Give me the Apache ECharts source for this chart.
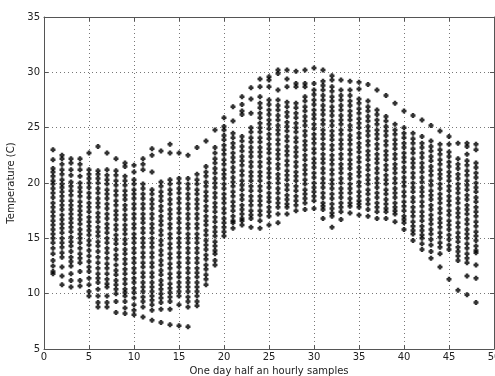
<!DOCTYPE html>
<html>
<head>
<meta charset="utf-8">
<script src="https://cdn.jsdelivr.net/npm/echarts@6/dist/echarts.min.js"></script>
<style>html,body{margin:0;padding:0;background:#fff}#c{width:495px;height:376px}</style>
</head>
<body>
<div id="c"></div>
<script>
// Half-hourly sample index (x) and the temperatures recorded at that slot (one per day)
const xTicks = [0, 5, 10, 15, 20, 25, 30, 35, 40, 45, 50];
const yTicks = [5, 10, 15, 20, 25, 30, 35];

const s01 = [23.0, 22.1, 21.3, 21.0, 20.6, 20.2, 19.9, 19.5, 19.1, 18.7, 18.2, 17.8, 17.4, 17.0, 16.6, 16.2, 15.8, 15.4, 15.0, 14.6, 14.1, 13.6, 13.0, 12.5, 12.0, 11.8];
const s02 = [22.5, 22.2, 21.7, 21.2, 20.8, 20.3, 19.9, 19.6, 19.2, 18.8, 18.4, 18.0, 17.6, 17.1, 16.7, 16.3, 15.9, 15.5, 15.0, 14.6, 14.2, 13.7, 13.3, 12.4, 11.6, 10.8];
const s03 = [22.2, 21.8, 21.2, 20.7, 20.1, 19.7, 19.3, 18.9, 18.4, 18.0, 17.6, 17.2, 16.8, 16.4, 16.0, 15.6, 15.1, 14.7, 14.3, 13.8, 13.3, 12.9, 12.5, 11.8, 11.2, 10.6];
const s04 = [22.2, 21.7, 21.2, 20.6, 20.0, 19.6, 19.2, 18.8, 18.3, 17.9, 17.5, 17.1, 16.7, 16.3, 15.8, 15.4, 15.0, 14.6, 14.1, 13.6, 13.2, 12.8, 12.0, 11.2, 10.7];
const s05 = [22.7, 21.2, 20.8, 20.4, 20.0, 19.6, 19.1, 18.7, 18.2, 17.8, 17.4, 16.9, 16.5, 16.1, 15.7, 15.3, 14.8, 14.4, 13.9, 13.4, 12.9, 12.4, 12.0, 11.4, 10.8, 10.2, 9.8];
const s06 = [23.3, 21.1, 20.8, 20.4, 20.0, 19.5, 19.1, 18.6, 18.2, 17.8, 17.3, 16.9, 16.5, 16.0, 15.6, 15.2, 14.7, 14.3, 13.8, 13.3, 12.8, 12.3, 11.8, 11.4, 11.0, 10.4, 9.8, 9.2, 8.8];
const s07 = [22.7, 21.2, 20.7, 20.3, 19.9, 19.4, 19.0, 18.6, 18.1, 17.7, 17.2, 16.8, 16.3, 15.9, 15.5, 15.0, 14.6, 14.1, 13.7, 13.2, 12.7, 12.3, 11.8, 11.3, 10.9, 10.6, 9.8, 9.2, 8.8];
const s08 = [22.2, 21.1, 20.7, 20.2, 19.8, 19.3, 18.9, 18.4, 18.0, 17.5, 17.1, 16.7, 16.2, 15.8, 15.3, 14.9, 14.5, 14.0, 13.5, 13.1, 12.6, 12.1, 11.7, 11.2, 10.8, 10.4, 10.0, 9.3, 8.3];
const s09 = [21.8, 21.5, 20.6, 20.2, 19.8, 19.3, 18.9, 18.5, 18.0, 17.6, 17.1, 16.7, 16.2, 15.8, 15.4, 14.9, 14.5, 14.0, 13.6, 13.1, 12.7, 12.2, 11.8, 11.3, 10.9, 10.4, 10.1, 9.8, 9.3, 8.7, 8.2];
const s10 = [21.6, 21.0, 20.3, 19.9, 19.4, 19.0, 18.6, 18.1, 17.7, 17.2, 16.8, 16.3, 15.9, 15.4, 15.0, 14.6, 14.1, 13.7, 13.2, 12.8, 12.3, 11.9, 11.4, 11.0, 10.5, 10.1, 9.6, 9.0, 8.5, 8.1];
const s11 = [22.2, 21.7, 21.2, 19.9, 19.5, 19.0, 18.6, 18.1, 17.7, 17.2, 16.8, 16.4, 15.9, 15.5, 15.0, 14.6, 14.2, 13.7, 13.3, 12.8, 12.4, 11.9, 11.5, 11.0, 10.6, 10.2, 9.7, 9.3, 8.8, 7.9];
const s12 = [23.1, 22.5, 21.0, 19.4, 19.0, 18.5, 18.1, 17.7, 17.2, 16.8, 16.3, 15.9, 15.5, 15.0, 14.6, 14.2, 13.7, 13.3, 12.8, 12.4, 11.9, 11.5, 11.0, 10.6, 10.2, 9.8, 9.4, 9.0, 8.5, 7.6];
const s13 = [22.9, 20.1, 19.7, 19.2, 18.8, 18.4, 17.9, 17.5, 17.0, 16.6, 16.2, 15.7, 15.3, 14.8, 14.4, 13.9, 13.5, 13.0, 12.6, 12.1, 11.7, 11.2, 10.8, 10.4, 10.0, 9.6, 9.2, 8.6, 7.4];
const s14 = [23.5, 22.7, 20.3, 19.9, 19.4, 19.0, 18.5, 18.1, 17.6, 17.2, 16.8, 16.3, 15.9, 15.4, 15.0, 14.5, 14.1, 13.6, 13.2, 12.7, 12.3, 11.8, 11.4, 10.9, 10.5, 10.1, 9.7, 9.3, 8.6, 7.2];
const s15 = [22.7, 20.4, 20.0, 19.5, 19.1, 18.6, 18.2, 17.7, 17.3, 16.8, 16.4, 15.9, 15.5, 15.0, 14.6, 14.2, 13.7, 13.3, 12.8, 12.4, 11.9, 11.5, 11.0, 10.6, 10.2, 9.8, 9.0, 7.1];
const s16 = [22.5, 20.4, 19.9, 19.5, 19.0, 18.6, 18.1, 17.7, 17.2, 16.8, 16.3, 15.9, 15.4, 15.0, 14.6, 14.1, 13.7, 13.2, 12.8, 12.3, 11.9, 11.4, 11.0, 10.6, 10.2, 9.7, 9.3, 8.8, 7.0];
const s17 = [23.2, 20.8, 20.3, 19.9, 19.4, 19.0, 18.5, 18.1, 17.7, 17.2, 16.8, 16.3, 15.9, 15.4, 15.0, 14.6, 14.1, 13.7, 13.2, 12.8, 12.3, 11.9, 11.5, 11.0, 10.6, 10.2, 9.8, 9.3, 8.9];
const s18 = [23.8, 21.5, 21.0, 20.6, 20.1, 19.7, 19.2, 18.8, 18.4, 17.9, 17.5, 17.0, 16.6, 16.2, 15.7, 15.3, 14.8, 14.4, 14.0, 13.5, 13.1, 12.6, 12.2, 11.7, 11.3, 10.8];
const s19 = [24.8, 23.2, 22.7, 22.2, 21.8, 21.3, 20.9, 20.4, 20.0, 19.6, 19.1, 18.7, 18.2, 17.8, 17.4, 16.9, 16.5, 16.0, 15.6, 15.2, 14.7, 14.3, 13.9, 13.6, 13.0, 12.6];
const s20 = [25.9, 25.1, 24.8, 24.3, 23.9, 23.4, 23.0, 22.6, 22.1, 21.7, 21.2, 20.8, 20.4, 19.9, 19.5, 19.0, 18.6, 18.2, 17.7, 17.3, 16.8, 16.4, 16.0, 15.6, 15.2];
const s21 = [26.9, 25.6, 24.5, 24.1, 23.6, 23.2, 22.7, 22.3, 21.9, 21.4, 21.0, 20.5, 20.1, 19.7, 19.2, 18.8, 18.3, 17.9, 17.5, 17.0, 16.6, 16.4, 15.9];
const s22 = [27.8, 27.1, 26.5, 26.2, 24.2, 23.8, 23.3, 22.9, 22.4, 22.0, 21.6, 21.1, 20.7, 20.2, 19.8, 19.4, 18.9, 18.5, 18.0, 17.6, 17.2, 16.8, 16.6, 16.2];
const s23 = [28.6, 27.6, 26.3, 25.0, 24.6, 24.1, 23.7, 23.2, 22.8, 22.4, 21.9, 21.5, 21.0, 20.6, 20.2, 19.7, 19.3, 18.8, 18.4, 18.0, 17.5, 17.1, 16.8, 16.0];
const s24 = [29.4, 28.7, 27.8, 27.2, 26.8, 26.3, 25.9, 25.4, 25.0, 24.6, 24.1, 23.7, 23.2, 22.8, 22.4, 21.9, 21.5, 21.0, 20.6, 20.2, 19.7, 19.3, 18.8, 18.4, 18.0, 17.5, 17.1, 16.6, 15.9];
const s25 = [29.6, 29.3, 28.7, 27.5, 27.1, 26.6, 26.2, 25.7, 25.3, 24.9, 24.4, 24.0, 23.5, 23.1, 22.7, 22.2, 21.8, 21.3, 20.9, 20.5, 20.0, 19.6, 19.1, 18.7, 18.3, 17.8, 17.4, 17.0, 16.2];
const s26 = [30.2, 29.9, 28.4, 27.5, 27.0, 26.6, 26.1, 25.7, 25.2, 24.8, 24.4, 23.9, 23.5, 23.0, 22.6, 22.2, 21.7, 21.3, 20.8, 20.4, 20.0, 19.5, 19.1, 18.6, 18.2, 17.8, 17.2, 16.4];
const s27 = [30.2, 29.4, 28.7, 27.3, 26.9, 26.4, 26.0, 25.5, 25.1, 24.7, 24.2, 23.8, 23.3, 22.9, 22.5, 22.0, 21.6, 21.1, 20.7, 20.3, 19.8, 19.4, 18.9, 18.5, 18.1, 17.8, 17.2];
const s28 = [30.1, 29.0, 28.7, 27.2, 26.8, 26.3, 25.9, 25.4, 25.0, 24.6, 24.1, 23.7, 23.2, 22.8, 22.4, 21.9, 21.5, 21.0, 20.6, 20.2, 19.7, 19.3, 18.8, 18.4, 18.0, 17.5];
const s29 = [30.2, 29.0, 28.7, 27.8, 27.4, 26.9, 26.5, 26.0, 25.6, 25.2, 24.7, 24.3, 23.8, 23.4, 23.0, 22.5, 22.1, 21.6, 21.2, 20.8, 20.3, 19.9, 19.4, 19.0, 18.6, 18.2, 17.6];
const s30 = [30.4, 29.0, 28.4, 28.0, 27.5, 27.1, 26.6, 26.2, 25.8, 25.3, 24.9, 24.4, 24.0, 23.6, 23.1, 22.7, 22.2, 21.8, 21.4, 20.9, 20.5, 20.0, 19.6, 19.2, 18.8, 18.4, 17.7];
const s31 = [30.2, 29.2, 28.8, 28.4, 27.9, 27.5, 27.0, 26.6, 26.2, 25.7, 25.3, 24.8, 24.4, 24.0, 23.5, 23.1, 22.6, 22.2, 21.8, 21.3, 20.9, 20.4, 20.0, 19.6, 19.1, 18.7, 18.2, 17.9, 17.6, 16.8];
const s32 = [29.7, 29.3, 28.7, 28.3, 27.8, 27.4, 26.9, 26.5, 26.1, 25.6, 25.2, 24.7, 24.3, 23.9, 23.4, 23.0, 22.5, 22.1, 21.7, 21.2, 20.8, 20.3, 19.9, 19.5, 19.0, 18.6, 18.1, 17.7, 17.3, 17.0, 16.0];
const s33 = [29.3, 28.4, 27.9, 27.5, 27.0, 26.6, 26.1, 25.7, 25.3, 24.8, 24.4, 23.9, 23.5, 23.1, 22.6, 22.2, 21.7, 21.3, 20.9, 20.4, 20.0, 19.5, 19.1, 18.7, 18.2, 17.8, 17.4, 16.7];
const s34 = [29.2, 28.4, 27.9, 27.4, 27.0, 26.5, 26.1, 25.7, 25.2, 24.8, 24.3, 23.9, 23.5, 23.0, 22.6, 22.1, 21.7, 21.3, 20.8, 20.4, 19.9, 19.5, 19.1, 18.6, 18.2, 17.9, 17.3];
const s35 = [29.1, 28.5, 27.6, 27.2, 26.7, 26.3, 25.8, 25.4, 25.0, 24.5, 24.1, 23.6, 23.2, 22.8, 22.3, 21.9, 21.4, 21.0, 20.6, 20.1, 19.7, 19.2, 18.8, 18.4, 18.1, 17.8, 17.1];
const s36 = [28.9, 27.4, 26.9, 26.5, 26.0, 25.6, 25.1, 24.7, 24.3, 23.8, 23.4, 22.9, 22.5, 22.1, 21.6, 21.2, 20.7, 20.3, 19.9, 19.4, 19.0, 18.5, 18.1, 17.6, 17.0];
const s37 = [28.4, 26.6, 26.2, 25.7, 25.3, 24.8, 24.4, 24.0, 23.5, 23.1, 22.6, 22.2, 21.8, 21.3, 20.9, 20.4, 20.0, 19.6, 19.1, 18.7, 18.2, 17.8, 17.4, 16.8];
const s38 = [27.9, 26.0, 25.6, 25.1, 24.7, 24.3, 23.8, 23.4, 22.9, 22.5, 22.1, 21.6, 21.2, 20.7, 20.3, 19.9, 19.4, 19.0, 18.5, 18.1, 17.7, 17.4, 16.8];
const s39 = [27.2, 25.3, 24.8, 24.4, 23.9, 23.5, 23.1, 22.6, 22.2, 21.7, 21.3, 20.9, 20.4, 20.0, 19.5, 19.1, 18.7, 18.2, 17.8, 17.5, 17.2, 16.5];
const s40 = [26.5, 25.0, 24.5, 24.1, 23.6, 23.2, 22.7, 22.3, 21.9, 21.4, 21.0, 20.5, 20.1, 19.7, 19.2, 18.8, 18.3, 17.9, 17.5, 17.0, 16.7, 16.4, 15.8];
const s41 = [26.1, 24.5, 24.0, 23.6, 23.1, 22.7, 22.2, 21.8, 21.4, 20.9, 20.5, 20.0, 19.6, 19.2, 18.7, 18.3, 17.8, 17.4, 17.0, 16.5, 16.1, 15.7, 15.4, 14.8];
const s42 = [25.7, 24.2, 23.6, 23.2, 22.7, 22.3, 21.8, 21.4, 21.0, 20.5, 20.1, 19.6, 19.2, 18.8, 18.3, 17.9, 17.4, 17.0, 16.6, 16.1, 15.7, 15.3, 15.0, 14.5, 14.0];
const s43 = [25.2, 23.8, 23.3, 22.9, 22.4, 22.0, 21.5, 21.1, 20.7, 20.2, 19.8, 19.3, 18.9, 18.5, 18.0, 17.6, 17.1, 16.7, 16.3, 15.8, 15.4, 14.9, 14.4, 13.8, 13.2];
const s44 = [24.7, 23.5, 23.0, 22.6, 22.1, 21.7, 21.2, 20.8, 20.4, 19.9, 19.5, 19.0, 18.6, 18.2, 17.7, 17.3, 16.8, 16.4, 16.0, 15.5, 15.1, 14.6, 14.2, 13.6, 12.4];
const s45 = [24.2, 23.5, 22.8, 22.4, 21.9, 21.5, 21.0, 20.6, 20.2, 19.7, 19.3, 18.8, 18.4, 18.0, 17.5, 17.1, 16.6, 16.2, 15.8, 15.3, 14.9, 14.4, 14.0, 11.3];
const s46 = [23.6, 22.2, 21.7, 21.3, 20.8, 20.4, 19.9, 19.5, 19.1, 18.6, 18.2, 17.7, 17.3, 16.9, 16.4, 16.0, 15.5, 15.1, 14.7, 14.2, 13.8, 13.4, 13.0, 10.3];
const s47 = [23.6, 23.3, 22.6, 22.0, 21.6, 21.1, 20.7, 20.2, 19.8, 19.4, 18.9, 18.5, 18.0, 17.6, 17.2, 16.7, 16.3, 15.8, 15.4, 15.0, 14.5, 14.1, 13.6, 13.2, 12.8, 11.6, 9.9];
const s48 = [23.5, 23.0, 21.8, 21.4, 20.9, 20.5, 20.0, 19.6, 19.2, 18.7, 18.3, 17.8, 17.4, 17.0, 16.5, 16.1, 15.6, 15.2, 14.8, 14.3, 13.9, 13.7, 12.6, 11.4, 9.2];

const slots = [s01,s02,s03,s04,s05,s06,s07,s08,s09,s10,s11,s12,s13,s14,s15,s16,s17,s18,s19,s20,s21,s22,s23,s24,
               s25,s26,s27,s28,s29,s30,s31,s32,s33,s34,s35,s36,s37,s38,s39,s40,s41,s42,s43,s44,s45,s46,s47,s48];

const points = [];
slots.forEach((vals, i) => vals.forEach(v => points.push([i + 1, v])));

const font = 'DejaVu Sans';
const labelColor = '#222';
const gridLine = { show: true, lineStyle: { color: '#777', type: [1, 3], width: 1 } };
const boxLine = { show: true, onZero: false, lineStyle: { color: '#555', width: 1 } };
const tick = { show: true, inside: true, length: 4, lineStyle: { color: '#555' } };

const chart = echarts.init(document.getElementById('c'), null, { renderer: 'canvas' });
chart.setOption({
  animation: false,
  backgroundColor: '#fff',
  grid: { left: 44, right: 1, top: 17, bottom: 27, containLabel: false, outerBoundsMode: 'none' },
  xAxis: [{
    type: 'value', min: xTicks[0], max: xTicks[xTicks.length - 1], interval: 5,
    name: 'One day half an hourly samples', nameLocation: 'middle', nameGap: 15,
    nameTextStyle: { fontFamily: font, fontSize: 10, color: labelColor },
    axisLine: boxLine, axisTick: tick, splitLine: gridLine,
    axisLabel: { fontFamily: font, fontSize: 10, color: labelColor, margin: 3, showMaxLabel: true, hideOverlap: false }
  }, {
    type: 'value', position: 'top', min: xTicks[0], max: xTicks[xTicks.length - 1], interval: 5,
    axisLine: boxLine, axisTick: tick, splitLine: { show: false }, axisLabel: { show: false }
  }],
  yAxis: [{
    type: 'value', min: yTicks[0], max: yTicks[yTicks.length - 1], interval: 5,
    name: 'Temperature (C)', nameLocation: 'middle', nameGap: 17,
    nameTextStyle: { fontFamily: font, fontSize: 10, color: labelColor },
    axisLine: boxLine, axisTick: tick, splitLine: gridLine,
    axisLabel: { fontFamily: font, fontSize: 10, color: labelColor, margin: 4 }
  }, {
    type: 'value', position: 'right', min: yTicks[0], max: yTicks[yTicks.length - 1], interval: 5,
    axisLine: boxLine, axisTick: tick, splitLine: { show: false }, axisLabel: { show: false }
  }],
  series: [{
    type: 'scatter',
    data: points,
    symbol: 'path://M1.5,0H4.5V1.5H6V4.5H4.5V6H1.5V4.5H0V1.5H1.5Z',
    symbolSize: 5,
    itemStyle: { color: '#000' },
    silent: true
  }]
});
</script>
</body>
</html>
